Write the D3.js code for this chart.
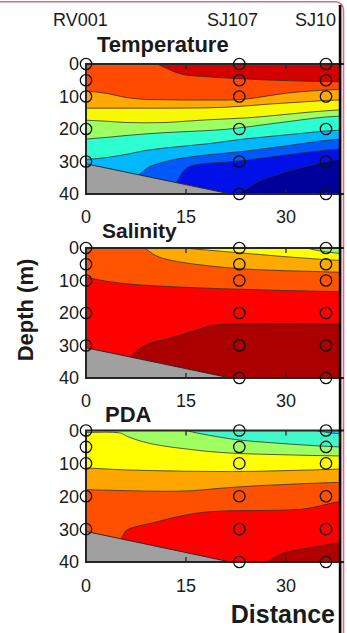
<!DOCTYPE html>
<html>
<head>
<meta charset="utf-8">
<script src="https://cdn.jsdelivr.net/npm/d3@7"></script>
<style>
  html, body { margin: 0; padding: 0; background: #ffffff; }
  svg { display: block; }
  text { font-family: "Liberation Sans", Arial, Helvetica, sans-serif; fill: #1a1a1a; }
</style>
</head>
<body>
<svg id="fig" width="347" height="633"></svg>
<script>
// ---- section geometry: stations, sample depths, bottom profile ----
const stationNames = ["RV001", "SJ107", "SJ10"];
const stationKm = [0, 23, 36];
const sampleDepths = [
  [0, 5, 10, 20, 30],
  [0, 5, 10, 20, 30, 40],
  [0, 5, 10, 20, 30, 40]
];
const bottomProfile = [[0, 30.7], [21.7, 40], [40, 40]];
const distanceTicks = [0, 15, 30];
const depthTicks = [0, 10, 20, 30, 40];

// ---- isoline depths [km, m], listed from the surface downwards ----
const tempIsolines = [
  [[0,-3],[6,-2.5],[9,-1.2],[11,0.3],[13,2.2],[15,3.4],[18,3.9],[21,4.3],[24,4.6],[27,4.9],[30,5.1],[33,5.3],[36,5.4],[39,5.5]],
  [[0,8.3],[3,9.0],[6,10.3],[9,10.9],[12,11.0],[15,11.1],[18,11.1],[21,11.1],[24,10.8],[27,9.9],[30,9.0],[33,8.4],[36,8.0],[39,7.8]],
  [[0,13.6],[6,13.6],[12,13.6],[18,13.5],[21,13.3],[24,12.9],[27,12.4],[30,12.0],[33,11.6],[36,11.2],[39,11.0]],
  [[0,17.3],[3,17.6],[6,18.0],[9,18.1],[12,18.0],[15,17.6],[18,17.2],[21,16.9],[24,16.6],[27,16.1],[30,15.5],[33,14.9],[36,14.4],[39,14.0]],
  [[0,23.1],[3,22.6],[6,22.0],[9,21.5],[12,21.1],[15,20.8],[18,20.5],[21,20.1],[24,19.4],[27,18.6],[30,17.8],[33,17.0],[36,16.3],[39,16.0]],
  [[0,29.4],[3,28.8],[6,27.8],[9,26.6],[12,25.8],[15,25.2],[18,24.6],[21,23.8],[24,23.0],[27,22.4],[30,21.8],[33,21.2],[36,20.6],[39,20.3]],
  [[0,40],[3,39],[6,37],[8,34],[9,32.3],[12,30.0],[15,28.8],[18,28.0],[21,27.4],[24,26.8],[27,26.0],[30,25.2],[33,24.3],[36,23.5],[39,23.0]],
  [[0,42],[6,41],[12,38.5],[13.6,36.3],[14.5,33.2],[16,31.2],[18,30.6],[21,30.2],[24,29.6],[27,28.8],[30,28.0],[33,27.2],[36,26.5],[39,26.0]],
  [[0,45],[18,44],[22.5,40],[24,38.5],[26,36],[28,34.5],[31,32.6],[34,31],[37,29.6],[39,29]]
];
const tempColors = ["#d40000", "#ff4a00", "#ffa800", "#f8f800", "#9cff62", "#2cffd0", "#00b8ff", "#0058ff", "#0010e8", "#00009a"];

const salIsolines = [
  [[0,-3],[28,-2.5],[31,-1],[33,0],[36,1.2],[39,1.8]],
  [[0,-3],[12,-1.5],[15,0],[18,0.6],[22,1.3],[26,2.0],[30,2.7],[34,3.3],[37,3.7],[39,3.9]],
  [[0,-3],[6,-2],[8.8,0],[10,1.8],[11,2.8],[13,3.9],[15,4.6],[18,5.4],[22,6.2],[26,6.7],[30,7.0],[34,7.2],[37,7.4],[39,7.5]],
  [[0,9.0],[3,10.2],[6,11.0],[10,11.6],[15,12.1],[20,12.5],[25,12.8],[30,13.1],[35,13.3],[39,13.5]],
  [[0,42],[4,38],[6,35.5],[7.5,31.8],[9.5,29.4],[12,28.1],[14,26.9],[16.5,25.3],[19,23.8],[22,23.4],[30,23.3],[37,23.4],[39,23.5]]
];
const salColors = ["#88ff70", "#ffff00", "#ffaa00", "#ff5500", "#ff0000", "#aa0000"];

const pdaIsolines = [
  [[0,-3],[30,-2],[33,-0.5],[35,0.2],[37,0.8],[39,1.2]],
  [[0,-3],[11,-2.5],[13,-1.2],[15,0],[17,0.9],[20,2.0],[23,2.9],[27,3.6],[31,4.2],[35,4.7],[39,5.1]],
  [[0,0.6],[3,0.5],[5,0.7],[6.2,1.8],[8.5,3.4],[11,4.5],[15,5.6],[18,6.3],[22,6.9],[26,7.2],[30,7.4],[34,7.6],[37,7.7],[39,7.8]],
  [[0,11.4],[3,11.7],[6,12.0],[10,12.2],[15,12.4],[22,12.5],[26,12.4],[30,12.2],[34,12.0],[37,11.8],[39,11.7]],
  [[0,18.0],[6,18.3],[12,18.5],[16,18.3],[20,17.6],[24,17.0],[30,16.4],[36,15.9],[39,15.7]],
  [[0,42],[3,37],[5,34],[6,30.5],[8,29],[10,28.1],[12.5,26.8],[15,25.7],[18,24.8],[22,24.4],[28,24.3],[32,24.0],[35,23.0],[37,22.0],[39,21.4]],
  [[0,45],[20,45],[24,43],[27,40.2],[29,37.8],[32,36.2],[35,35.2],[37.5,34.3],[39,34]]
];
const pdaColors = ["#10c0ff", "#40f8c8", "#a0ff60", "#ffff00", "#ffa500", "#ff5000", "#ff0000", "#b00000"];

// ---- layout ----
const svg = d3.select("#fig");
const W = 347, H = 633;
const plotLeft = 86, plotRight = 339;
const x = d3.scaleLinear().domain([0, 30]).range([86, 286]);

const panels = [
  { title: "Temperature", titleSize: 22, top: 64, bottom: 194, titleX: 97, titleY: 51.5, tickY: 223, iso: tempIsolines, colors: tempColors },
  { title: "Salinity", titleSize: 21, top: 248, bottom: 378, titleX: 102, titleY: 237.5, tickY: 407, iso: salIsolines, colors: salColors },
  { title: "PDA", titleSize: 22, top: 430.5, bottom: 562, titleX: 105, titleY: 421.5, tickY: 592, iso: pdaIsolines, colors: pdaColors }
];

// outer frame
svg.append("rect")
  .attr("x", -20).attr("y", 1.8)
  .attr("width", 363.5).attr("height", H + 40)
  .attr("rx", 8)
  .attr("fill", "none")
  .attr("stroke", "#de6b7c")
  .attr("stroke-width", 1.6);

// station names
svg.selectAll("text.station")
  .data(stationNames)
  .join("text")
  .attr("class", "station")
  .attr("x", (d, i) => [53, 207, 295][i])
  .attr("y", 26)
  .attr("font-size", 18)
  .text(d => d);

panels.forEach((p, pi) => {
  const y = d3.scaleLinear().domain([0, 40]).range([p.top, p.bottom]);
  const g = svg.append("g");
  const clipId = "clip" + pi;
  svg.append("clipPath").attr("id", clipId)
    .append("rect")
    .attr("x", plotLeft).attr("y", p.top)
    .attr("width", plotRight - plotLeft).attr("height", p.bottom - p.top);

  const field = g.append("g").attr("clip-path", `url(#${clipId})`);

  // surface band
  field.append("rect")
    .attr("x", plotLeft).attr("y", p.top)
    .attr("width", plotRight - plotLeft).attr("height", p.bottom - p.top)
    .attr("fill", p.colors[0]);

  const fillArea = d3.area()
    .x(d => x(d[0]))
    .y0(d => y(d[1]))
    .y1(y(48))
    .curve(d3.curveMonotoneX);
  const isoLine = d3.line()
    .x(d => x(d[0]))
    .y(d => y(d[1]))
    .curve(d3.curveMonotoneX);

  // bands painted downward from each isoline
  p.iso.forEach((line, k) => {
    field.append("path")
      .attr("d", fillArea(line))
      .attr("fill", p.colors[k + 1]);
  });
  p.iso.forEach(line => {
    field.append("path")
      .attr("d", isoLine(line))
      .attr("fill", "none")
      .attr("stroke", "#2b2b2b")
      .attr("stroke-width", 0.9)
      .attr("stroke-opacity", 0.85);
  });

  // sea floor
  const floorArea = d3.area()
    .x(d => x(d[0]))
    .y0(d => y(d[1]))
    .y1(y(48));
  field.append("path")
    .attr("d", floorArea(bottomProfile))
    .attr("fill", "#a0a0a0")
    .attr("stroke", "#2b2b2b")
    .attr("stroke-width", 1);

  // axes box
  g.append("path")
    .attr("d", `M${plotRight + 5},${p.top}H${plotLeft}V${p.bottom}H${plotRight + 5}`)
    .attr("fill", "none")
    .attr("stroke", "#262626")
    .attr("stroke-width", 2);

  // inward ticks, top and bottom
  distanceTicks.filter(t => t > 0).forEach(t => {
    g.append("line")
      .attr("x1", x(t)).attr("x2", x(t))
      .attr("y1", p.top).attr("y2", p.top + 5)
      .attr("stroke", "#262626").attr("stroke-width", 1.3);
    g.append("line")
      .attr("x1", x(t)).attr("x2", x(t))
      .attr("y1", p.bottom).attr("y2", p.bottom - 5)
      .attr("stroke", "#262626").attr("stroke-width", 1.3);
  });

  // tick labels
  g.selectAll("text.xt")
    .data(distanceTicks)
    .join("text")
    .attr("class", "xt")
    .attr("x", d => x(d))
    .attr("y", p.tickY)
    .attr("text-anchor", "middle")
    .attr("font-size", 18)
    .text(d => d);
  g.selectAll("text.yt")
    .data(depthTicks)
    .join("text")
    .attr("class", "yt")
    .attr("x", 79)
    .attr("y", d => y(d))
    .attr("dy", "0.36em")
    .attr("text-anchor", "end")
    .attr("font-size", 18)
    .text(d => d);

  // sample positions
  stationKm.forEach((s, si) => {
    g.selectAll(null)
      .data(sampleDepths[si])
      .join("circle")
      .attr("cx", x(s))
      .attr("cy", d => y(d))
      .attr("r", 5.7)
      .attr("fill", "none")
      .attr("stroke", "#111")
      .attr("stroke-width", 1.3);
  });

  // panel title
  g.append("text")
    .attr("x", p.titleX)
    .attr("y", p.titleY)
    .attr("font-size", p.titleSize)
    .attr("font-weight", "bold")
    .text(p.title);
});

// axis labels
svg.append("text")
  .attr("transform", "translate(33,310) rotate(-90)")
  .attr("text-anchor", "middle")
  .attr("font-size", 22)
  .attr("font-weight", "bold")
  .text("Depth (m)");

svg.append("text")
  .attr("x", 335)
  .attr("y", 623)
  .attr("text-anchor", "end")
  .attr("font-size", 25)
  .attr("font-weight", "bold")
  .text("Distance");

// right-hand edge bar
svg.append("rect")
  .attr("x", 338.8).attr("y", 5)
  .attr("width", 2.6).attr("height", H)
  .attr("fill", "#000");
</script>
</body>
</html>
